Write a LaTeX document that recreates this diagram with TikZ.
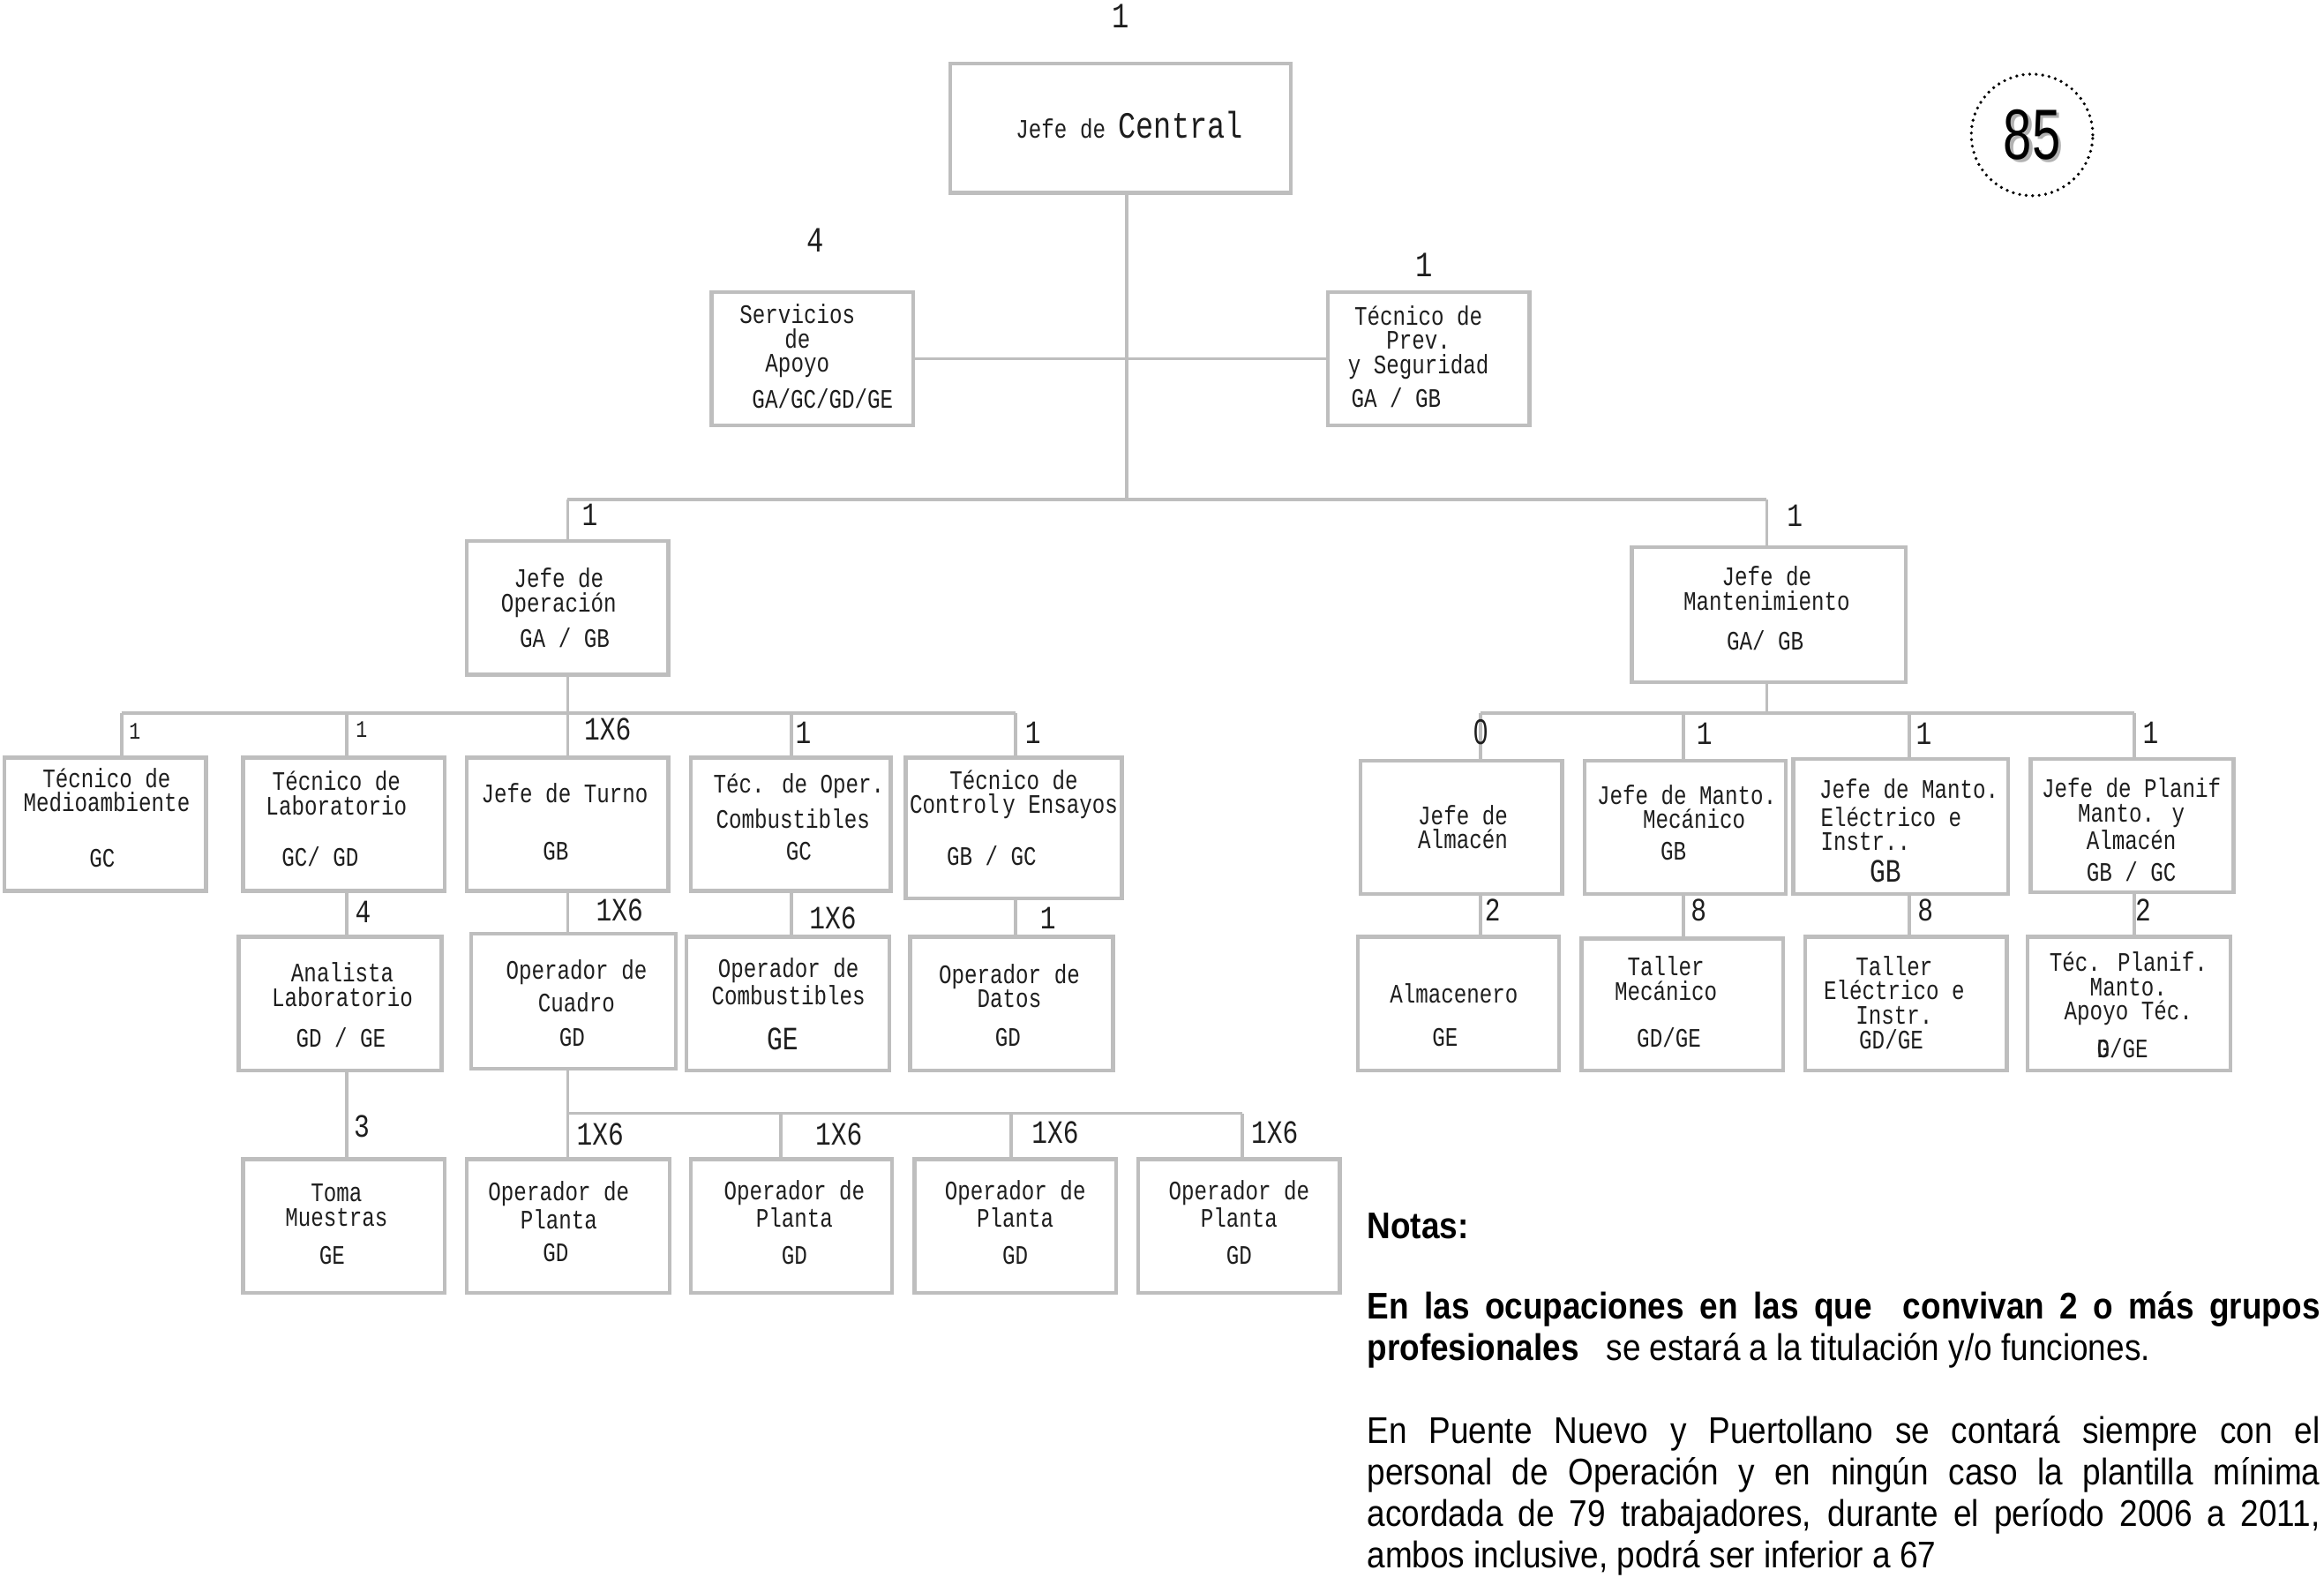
\documentclass[tikz,border=0pt]{standalone}
\usepackage{fontspec}
\usetikzlibrary{fit}
\newfontfamily\mono[FakeStretch=0.8]{Liberation Mono}
\newfontfamily\narrow[FakeStretch=0.88]{Liberation Sans}
\newfontfamily\numfont[FakeStretch=0.72]{Liberation Sans}
\definecolor{boxgray}{RGB}{190,190,190}
\definecolor{ink}{RGB}{30,30,30}
\tikzset{
  box/.style={draw=boxgray, line width=1.3pt, inner sep=0pt, fill=white},
  conn/.style={draw=boxgray, line width=1.1pt},
  txt/.style={font=\mono\fontsize{9}{8.2}\selectfont, inner sep=0pt, align=center, text=ink},
  gtxt/.style={font=\mono\fontsize{9}{8.2}\selectfont, inner sep=0pt, text=ink},
  bigg/.style={font=\mono\fontsize{11}{11}\selectfont, inner sep=0pt, text=ink},
  num/.style={font=\mono\fontsize{11}{11}\selectfont, inner sep=0pt, text=ink},
  numtop/.style={font=\mono\fontsize{12}{12}\selectfont, inner sep=0pt, text=ink},
  numsmall/.style={font=\mono\fontsize{8}{8}\selectfont, inner sep=0pt, text=ink},
  notes/.style={font=\narrow\fontsize{12.5}{14}\selectfont, inner sep=0pt, text width=321.5pt, align=justify, text=black}
}
\begin{document}
\begin{tikzpicture}[x=0.5pt,y=-0.5pt]
\useasboundingbox (0,0) rectangle (1568,1069);
\fill[white] (0,0) rectangle (1568,1069);

% ---------- connector coordinates ----------
\coordinate (t1) at (760,241);
\coordinate (t2) at (760,337);
\coordinate (bL) at (383,337);
\coordinate (bR) at (1192,337);
\coordinate (lb1) at (82,481);
\coordinate (lb2) at (234,481);
\coordinate (lb3) at (383,481);
\coordinate (lb4) at (534,481);
\coordinate (lb5) at (685,481);
\coordinate (rb0) at (1192,481);
\coordinate (rb1) at (999,481);
\coordinate (rb2) at (1136,481);
\coordinate (rb3) at (1288,481);
\coordinate (rb4) at (1440,481);
\coordinate (pb1) at (383,751);
\coordinate (pb2) at (527,751);
\coordinate (pb3) at (682,751);
\coordinate (pb4) at (838,751);

% ---------- boxes ----------
\node[box, fit={(641,43) (871,130)}] (cen) {};
\node[box, fit={(480,197) (616,287)}] (serv) {};
\node[box, fit={(896,197) (1032,287)}] (prev) {};
\node[box, fit={(315,365) (451,455)}] (jop) {};
\node[box, fit={(1101,369) (1286,460)}] (jman) {};
\node[box, fit={(3,511) (139,601)}] (med) {};
\node[box, fit={(164,511) (300,601)}] (tlab) {};
\node[box, fit={(315,511) (451,601)}] (jtur) {};
\node[box, fit={(466,511) (601,601)}] (tcomb) {};
\node[box, fit={(611,511) (757,606)}] (tctrl) {};
\node[box, fit={(918,513) (1054,603)}] (jalm) {};
\node[box, fit={(1069,513) (1205,603)}] (jmec) {};
\node[box, fit={(1210,512) (1355,603)}] (jele) {};
\node[box, fit={(1370,512) (1507,602)}] (jplan) {};
\node[box, fit={(161,632) (298,722)}] (anal) {};
\node[box, fit={(318,630) (456,721)}] (ocua) {};
\node[box, fit={(463,632) (600,722)}] (ocomb) {};
\node[box, fit={(614,632) (751,722)}] (odat) {};
\node[box, fit={(916,632) (1052,722)}] (alm) {};
\node[box, fit={(1067,633) (1203,722)}] (tmec) {};
\node[box, fit={(1218,632) (1354,722)}] (tele) {};
\node[box, fit={(1368,632) (1505,722)}] (tplan) {};
\node[box, fit={(164,782) (300,872)}] (toma) {};
\node[box, fit={(315,782) (452,872)}] (op1) {};
\node[box, fit={(466,782) (602,872)}] (op2) {};
\node[box, fit={(617,782) (753,872)}] (op3) {};
\node[box, fit={(768,782) (904,872)}] (op4) {};

% ---------- connector lines ----------
\draw[conn] (t1 |- cen.south) -- (t2);
\draw[conn] (serv.east) -- (prev.west);
\draw[conn] (bL) -- (bR);
\draw[conn] (bL) -- (bL |- jop.north);
\draw[conn] (bR) -- (bR |- jman.north);
% Operacion bus
\draw[conn] (jop.south) -- (jtur.north);
\draw[conn] (lb1) -- (lb5);
\draw[conn] (lb1) -- (lb1 |- med.north);
\draw[conn] (lb2) -- (lb2 |- tlab.north);
\draw[conn] (lb4) -- (lb4 |- tcomb.north);
\draw[conn] (lb5) -- (lb5 |- tctrl.north);
% Mantenimiento bus
\draw[conn] (rb0 |- jman.south) -- (rb0);
\draw[conn] (rb1) -- (rb4);
\draw[conn] (rb1) -- (rb1 |- jalm.north);
\draw[conn] (rb2) -- (rb2 |- jmec.north);
\draw[conn] (rb3) -- (rb3 |- jele.north);
\draw[conn] (rb4) -- (rb4 |- jplan.north);
% third row
\draw[conn] (lb2 |- tlab.south) -- (lb2 |- anal.north);
\draw[conn] (lb3 |- jtur.south) -- (lb3 |- ocua.north);
\draw[conn] (lb4 |- tcomb.south) -- (lb4 |- ocomb.north);
\draw[conn] (lb5 |- tctrl.south) -- (lb5 |- odat.north);
\draw[conn] (rb1 |- jalm.south) -- (rb1 |- alm.north);
\draw[conn] (rb2 |- jmec.south) -- (rb2 |- tmec.north);
\draw[conn] (rb3 |- jele.south) -- (rb3 |- tele.north);
\draw[conn] (rb4 |- jplan.south) -- (rb4 |- tplan.north);
% fourth row
\draw[conn] (lb2 |- anal.south) -- (lb2 |- toma.north);
\draw[conn] (pb1 |- ocua.south) -- (pb1);
\draw[conn] (pb1) -- (pb4);
\draw[conn] (pb1) -- (pb1 |- op1.north);
\draw[conn] (pb2) -- (pb2 |- op2.north);
\draw[conn] (pb3) -- (pb3 |- op3.north);
\draw[conn] (pb4) -- (pb4 |- op4.north);

% ---------- count labels ----------
\node[numtop] (n-cen) at (756,11) {1};
\node[numtop] (n-serv) at (550,162) {4};
\node[numtop] (n-prev) at (961,179) {1};
\node[num] (n-jop) at (398,347) {1};
\node[num] (n-jman) at (1211,348) {1};
\node[numsmall] (n-med) at (91,493) {1};
\node[numsmall] (n-tlab) at (244,492) {1};
\node[num] (n-jtur) at (410,492) {1X6};
\node[num] (n-tcomb) at (542,494) {1};
\node[num] (n-tctrl) at (697,494) {1};
\node[font=\numfont\fontsize{12}{12}\selectfont, inner sep=0pt, text=ink] (n-jalm) at (999,494) {0};
\node[num] (n-jmec) at (1150,495) {1};
\node[num] (n-jele) at (1298,495) {1};
\node[num] (n-jplan) at (1451,494) {1};
\node[num] (n-anal) at (245,615) {4};
\node[num] (n-ocua) at (418,614) {1X6};
\node[num] (n-ocomb) at (562,619) {1X6};
\node[num] (n-odat) at (707,619) {1};
\node[num] (n-alm) at (1007,614) {2};
\node[num] (n-tmec) at (1146,614) {8};
\node[num] (n-tele) at (1299,614) {8};
\node[num] (n-tplan) at (1446,614) {2};
\node[num] (n-toma) at (244,760) {3};
\node[num] (n-op1) at (405,765) {1X6};
\node[num] (n-op2) at (566,765) {1X6};
\node[num] (n-op3) at (712,764) {1X6};
\node[num] (n-op4) at (860,764) {1X6};

% ---------- box texts ----------
\node[gtxt] (x-cen) at (762,84) {Jefe de {\fontsize{12.5}{12}\selectfont Central}};
\node[txt] (x-serv) at (538,230) {Servicios\\de\\Apoyo};
\node[gtxt] (g-serv) at (555,269) {GA/GC/GD/GE};
\node[txt] (x-prev) at (957,231) {Técnico de\\Prev.\\y Seguridad};
\node[gtxt] (g-prev) at (942,268) {GA / GB};
\node[txt] (x-jop) at (377,400) {Jefe de\\Operación};
\node[gtxt] (g-jop) at (381,430) {GA / GB};
\node[txt] (x-jman) at (1192,397) {Jefe de\\Mantenimiento};
\node[gtxt] (g-jman) at (1191,432) {GA/ GB};
\node[txt] (x-med) at (72,533) {Técnico de\\Medioambiente};
\node[gtxt] (g-med) at (69,579) {GC};
\node[txt] (x-tlab) at (227,535) {Técnico de\\Laboratorio};
\node[gtxt] (g-tlab) at (216,578) {GC/ GD};
\node[txt] (x-jtur) at (381,535) {Jefe de Turno};
\node[gtxt] (g-jtur) at (375,574) {GB};
\node[txt] (x-tcomb) at (539,530) {Téc. de Oper.};
\node[txt] (x-tcomb2) at (535,552) {Combustibles};
\node[gtxt] (g-tcomb) at (539,574) {GC};
\node[txt] (x-tctrl) at (684,536) {Técnico de\\Control\hspace{0.12em}y Ensayos};
\node[gtxt] (g-tctrl) at (669,577) {GB / GC};
\node[txt] (x-jalm) at (987,558) {Jefe de\\Almacén};
\node[txt] (x-jmec) at (1138,536) {Jefe de Manto.};
\node[txt] (x-jmec2) at (1143,552) {Mecánico};
\node[gtxt] (g-jmec) at (1129,574) {GB};
\node[txt] (x-jele) at (1288,532) {Jefe de Manto.};
\node[txt, anchor=west, align=left] (x-jele2) at (1228,559) {Eléctrico e\\Instr..};
\node[bigg] (g-jele) at (1272,588) {GB};
\node[txt] (x-jplan) at (1438,549) {Jefe de Planif\\Manto. y\\Almacén};
\node[gtxt] (g-jplan) at (1438,588) {GB / GC};
\node[txt] (x-anal) at (231,664) {Analista\\Laboratorio};
\node[gtxt] (g-anal) at (230,700) {GD / GE};
\node[txt] (x-ocua) at (389,656) {Operador de};
\node[txt] (x-ocua2) at (389,676) {Cuadro};
\node[gtxt] (g-ocua) at (386,700) {GD};
\node[txt] (x-ocomb) at (532,662) {Operador de\\Combustibles};
\node[bigg] (g-ocomb) at (528,701) {GE};
\node[txt] (x-odat) at (681,665) {Operador de\\Datos};
\node[gtxt] (g-odat) at (680,700) {GD};
\node[txt] (x-alm) at (981,670) {Almacenero};
\node[gtxt] (g-alm) at (975,700) {GE};
\node[txt] (x-tmec) at (1124,660) {Taller\\Mecánico};
\node[gtxt] (g-tmec) at (1126,700) {GD/GE};
\node[txt] (x-tele) at (1278,668) {Taller\\Eléctrico e\\Instr.};
\node[gtxt] (g-tele) at (1276,701) {GD/GE};
\node[txt] (x-tplan) at (1436,667) {Téc. Planif.\\Manto.\\Apoyo Téc.};
\node[gtxt] (g-tplan) at (1432,707) {\makebox[0pt][l]{D}G/GE};
\node[txt] (x-toma) at (227,813) {Toma\\Muestras};
\node[gtxt] (g-toma) at (224,847) {GE};
\node[txt] (x-op1) at (377,813) {Operador de\\Planta};
\node[gtxt] (g-op1) at (375,845) {GD};
\node[txt] (x-op2) at (536,812) {Operador de\\Planta};
\node[gtxt] (g-op2) at (536,847) {GD};
\node[txt] (x-op3) at (685,812) {Operador de\\Planta};
\node[gtxt] (g-op3) at (685,847) {GD};
\node[txt] (x-op4) at (836,812) {Operador de\\Planta};
\node[gtxt] (g-op4) at (836,847) {GD};

% ---------- page number badge ----------
\node[circle, draw=black, line width=1.1pt, dash pattern=on 0pt off 2.2pt, line cap=round, minimum size=41pt, inner sep=0pt] (badge) at (1371,91) {};
\node[font=\numfont\fontsize{24}{24}\selectfont, text=gray!60, inner sep=0pt] (badge-sh) at (1373,93) {85};
\node[font=\numfont\fontsize{24}{24}\selectfont, text=black, inner sep=0pt] (badge-num) at (1371,91) {85};

% ---------- notes ----------
\node[font=\narrow\bfseries\fontsize{12.5}{14}\selectfont, anchor=west, inner sep=0pt] (notas) at (922,827) {Notas:};
\node[notes, anchor=north west] (nota1) at (922,871) {\textbf{En las ocupaciones en las que\ \ convivan 2 o más grupos}\linebreak\textbf{profesionales}\ \ \ se estará a la titulación y/o funciones.};
\node[notes, anchor=north west] (nota2) at (922,955) {En Puente Nuevo y Puertollano se contará siempre con el\linebreak personal de Operación y en ningún caso la plantilla mínima\linebreak acordada de 79 trabajadores, durante el período 2006 a 2011,\linebreak ambos inclusive, podrá ser inferior a 67};
\end{tikzpicture}
\end{document}
